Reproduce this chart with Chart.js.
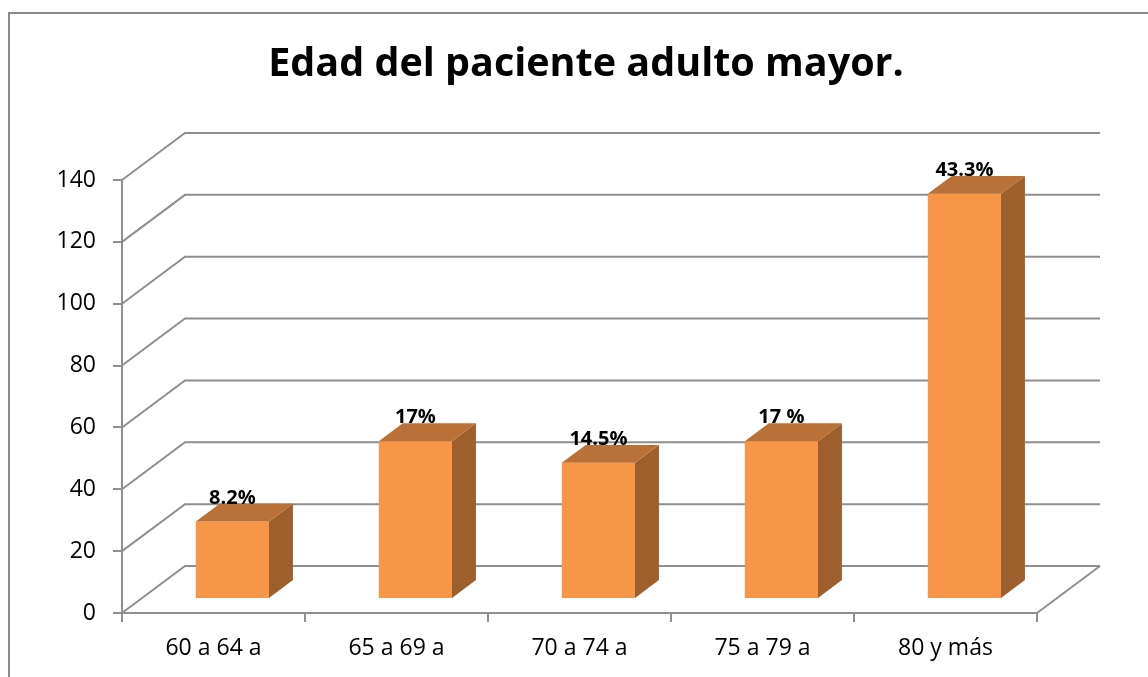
<!DOCTYPE html>
<html>
<head>
<meta charset="utf-8">
<script src="https://cdn.jsdelivr.net/npm/chart.js@4.4.0/dist/chart.umd.min.js"></script>
<style>
  html, body { margin: 0; padding: 0; overflow: hidden; background: #fff; width: 1148px; height: 677px; }
  #frame { position: absolute; left: 8px; top: 12px; width: 1160px; height: 700px; border: 2px solid #8a8a8a; box-sizing: content-box; }
  #c { position: absolute; left: 0; top: 0; }
</style>
</head>
<body>
<div id="frame"><canvas id="c" width="1152" height="663"></canvas></div>
<script>
const categories = ['60 a 64 a', '65 a 69 a', '70 a 74 a', '75 a 79 a', '80 y más'];
const values = [25, 51, 44, 51, 131];
const pctLabels = ['8.2%', '17%', '14.5%', '17 %', '43.3%'];
const yMin = 0, yMax = 140, yStep = 20;
const chartTitle = 'Edad del paciente adulto mayor.';

const GRID = '#8f8f8f';
const FRONT = '#F79646', TOP = '#BA7137', SIDE = '#9D602D';
const WALL_DX = 63, WALL_DY = -47;      // depth of the 3D walls
const BAR_POS = 0.30, BAR_DEPTH = 0.38; // bar front plane & thickness as fraction of wall depth

const threeD = {
  id: 'threeD',
  beforeDatasetsDraw(chart) {
    const {ctx, chartArea: {left, right, bottom}, scales: {y}} = chart;
    ctx.save();
    ctx.strokeStyle = GRID;
    ctx.lineWidth = 2;
    y.ticks.forEach(t => {
      const py = y.getPixelForValue(t.value);
      ctx.beginPath();
      ctx.moveTo(left, py);
      ctx.lineTo(left + WALL_DX, py + WALL_DY);
      ctx.lineTo(right + WALL_DX, py + WALL_DY);
      ctx.stroke();
    });
    ctx.beginPath();
    ctx.moveTo(right, bottom);
    ctx.lineTo(right + WALL_DX, bottom + WALL_DY);
    ctx.stroke();
    ctx.restore();
    ctx.save();
    ctx.translate(WALL_DX * BAR_POS, WALL_DY * BAR_POS);
  },
  afterDatasetsDraw(chart) {
    const {ctx} = chart;
    ctx.restore();
    const ox = WALL_DX * BAR_POS, oy = WALL_DY * BAR_POS;
    const ddx = WALL_DX * BAR_DEPTH, ddy = WALL_DY * BAR_DEPTH;
    const meta = chart.getDatasetMeta(0);
    ctx.save();
    meta.data.forEach((bar, i) => {
      const p = bar.getProps(['x', 'y', 'base', 'width'], true);
      const xl = p.x - p.width / 2 + ox, xr = p.x + p.width / 2 + ox;
      const yt = p.y + oy, yb = p.base + oy;
      ctx.fillStyle = SIDE;
      ctx.beginPath();
      ctx.moveTo(xr, yt); ctx.lineTo(xr + ddx, yt + ddy); ctx.lineTo(xr + ddx, yb + ddy); ctx.lineTo(xr, yb);
      ctx.closePath(); ctx.fill();
      ctx.fillStyle = TOP;
      ctx.beginPath();
      ctx.moveTo(xl, yt); ctx.lineTo(xl + ddx, yt + ddy); ctx.lineTo(xr + ddx, yt + ddy); ctx.lineTo(xr, yt);
      ctx.closePath(); ctx.fill();
      ctx.fillStyle = '#000';
      ctx.font = 'bold 20px "Open Sans"';
      ctx.textAlign = 'center';
      ctx.textBaseline = 'alphabetic';
      ctx.fillText(pctLabels[i], p.x + ox, yt - 18);
    });
    ctx.restore();
  }
};

new Chart(document.getElementById('c'), {
  type: 'bar',
  data: {
    labels: categories,
    datasets: [{
      data: values,
      backgroundColor: FRONT,
      borderWidth: 0,
      barPercentage: 0.4,
      categoryPercentage: 1.0
    }]
  },
  options: {
    responsive: false,
    animation: false,
    layout: { padding: { left: 32, right: 32, top: 0, bottom: 0 } },
    plugins: {
      legend: { display: false },
      tooltip: { enabled: false },
      title: {
        display: true,
        text: chartTitle,
        color: '#000',
        font: { family: '"Open Sans"', size: 39.5, weight: 'bold', lineHeight: 1.2 },
        padding: { top: 27, bottom: 91.6 }
      }
    },
    scales: {
      x: {
        afterFit(s) { s.height = 64; },
        border: { display: true, color: GRID, width: 2 },
        grid: { drawOnChartArea: false, drawTicks: true, tickLength: 9, color: GRID, lineWidth: 2, offset: true },
        ticks: { color: '#000', padding: 13, font: { family: '"Open Sans"', size: 23 } }
      },
      y: {
        min: yMin, max: yMax,
        afterFit(s) { s.width = 80; },
        border: { display: true, color: GRID, width: 2 },
        grid: { drawOnChartArea: false, drawTicks: true, tickLength: 9, color: GRID, lineWidth: 2 },
        ticks: { stepSize: yStep, color: '#000', padding: 17, font: { family: '"Open Sans"', size: 23 } }
      },
      depthSpace: {
        type: 'linear',
        position: 'right',
        display: true,
        afterFit(s) { s.width = 93; },
        border: { display: false },
        grid: { display: false },
        ticks: { display: false }
      }
    }
  },
  plugins: [threeD]
});
</script>
</body>
</html>
